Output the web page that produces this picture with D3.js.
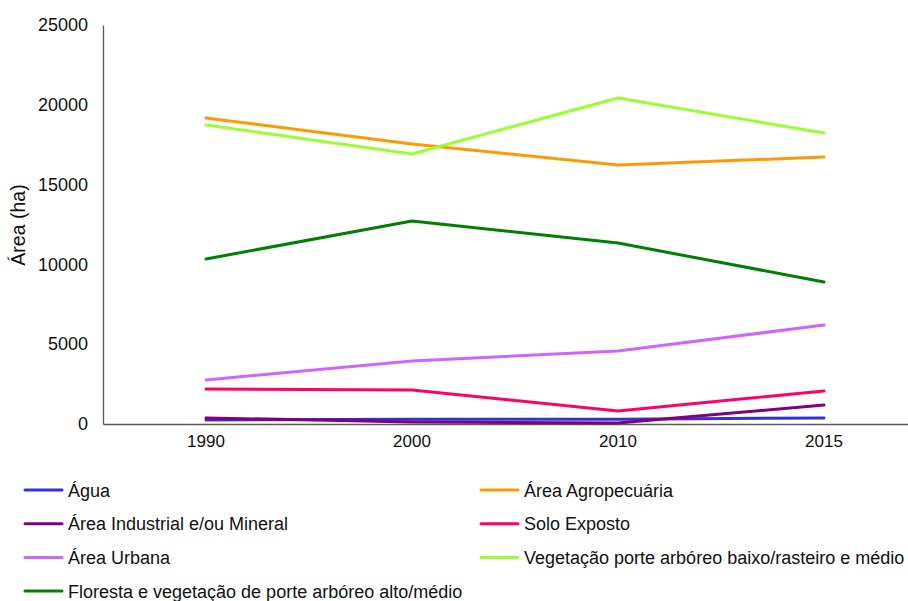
<!DOCTYPE html>
<html>
<head>
<meta charset="UTF-8">
<title>Área (ha)</title>
<script src="https://d3js.org/d3.v7.min.js"></script>
<style>
    body { margin: 0; background: #fff; }
    svg { font-family: "Liberation Sans", Arial, sans-serif; }
</style>
</head>
<body>
<div id="chart"></div>
<script>
    const years = ["1990", "2000", "2010", "2015"];
    const yTicks = [0, 5000, 10000, 15000, 20000, 25000];

    const seriesNames = [
        "Água",
        "Área Agropecuária",
        "Área Industrial e/ou Mineral",
        "Solo Exposto",
        "Área Urbana",
        "Vegetação porte arbóreo baixo/rasteiro e médio",
        "Floresta e vegetação de porte arbóreo alto/médio"
    ];
    const agua       = [250, 300, 300, 380];
    const agro       = [19170, 17540, 16230, 16730];
    const industrial = [380, 130, 60, 1190];
    const solo       = [2190, 2130, 810, 2070];
    const urbana     = [2760, 3950, 4570, 6200];
    const vegBaixo   = [18730, 16920, 20430, 18230];
    const floresta   = [10340, 12720, 11340, 8900];
    const colors = ["#3333cc", "#ff9900", "#800080", "#ff0066", "#cc66ff", "#99ff33", "#008000"];

    const allValues = [agua, agro, industrial, solo, urbana, vegBaixo, floresta];

    const width = 908, height = 601;
    const svg = d3.select("#chart").append("svg")
        .attr("width", width).attr("height", height);

    const x = d3.scaleBand().domain(years).range([103, 927]);
    const y = d3.scaleLinear().domain([0, 25000]).range([424, 25]);

    // y axis
    const yAxis = svg.append("g")
        .attr("transform", "translate(103,0)")
        .call(d3.axisLeft(y).tickValues(yTicks).tickSize(0).tickPadding(15).tickFormat(d3.format("d")));
    yAxis.select(".domain").attr("stroke", "#595959").attr("stroke-width", 1.3);
    yAxis.selectAll("text").attr("font-size", 18).attr("fill", "#111").attr("font-family", "Liberation Sans, Arial");

    // x axis
    const xAxis = svg.append("g")
        .attr("transform", "translate(0,424)")
        .call(d3.axisBottom(x).tickSize(0).tickPadding(11));
    xAxis.select(".domain").attr("stroke", "#595959").attr("stroke-width", 1.3);
    xAxis.selectAll("text").attr("font-size", 17).attr("fill", "#111").attr("font-family", "Liberation Sans, Arial");

    svg.append("text")
        .attr("transform", "translate(25,225) rotate(-90)")
        .attr("text-anchor", "middle")
        .attr("font-size", 19.5)
        .attr("fill", "#111")
        .text("Área (ha)");

    const line = d3.line()
        .x((d, i) => x(years[i]) + x.bandwidth() / 2)
        .y(d => y(d));

    // draw in an order so the light green sits over orange like in the original
    const drawOrder = [4, 3, 0, 2, 6, 1, 5];
    drawOrder.forEach(i => {
        svg.append("path")
            .attr("d", line(allValues[i]))
            .attr("fill", "none")
            .attr("stroke", colors[i])
            .attr("stroke-width", 3)
            .attr("stroke-linejoin", "round")
            .attr("stroke-linecap", "round");
    });

    // legend, two columns
    const legend = svg.append("g");
    seriesNames.forEach((name, i) => {
        const col = i % 2, row = Math.floor(i / 2);
        const lx = col === 0 ? 25 : 481;
        const ly = 490 + row * 33.7;
        legend.append("line")
            .attr("x1", lx).attr("x2", lx + 37)
            .attr("y1", ly).attr("y2", ly)
            .attr("stroke", colors[i]).attr("stroke-width", 3)
            .attr("stroke-linecap", "round");
        legend.append("text")
            .attr("x", lx + 43).attr("y", ly + 6.5)
            .attr("font-size", 18)
            .attr("fill", "#111")
            .text(name);
    });
</script>
</body>
</html>
